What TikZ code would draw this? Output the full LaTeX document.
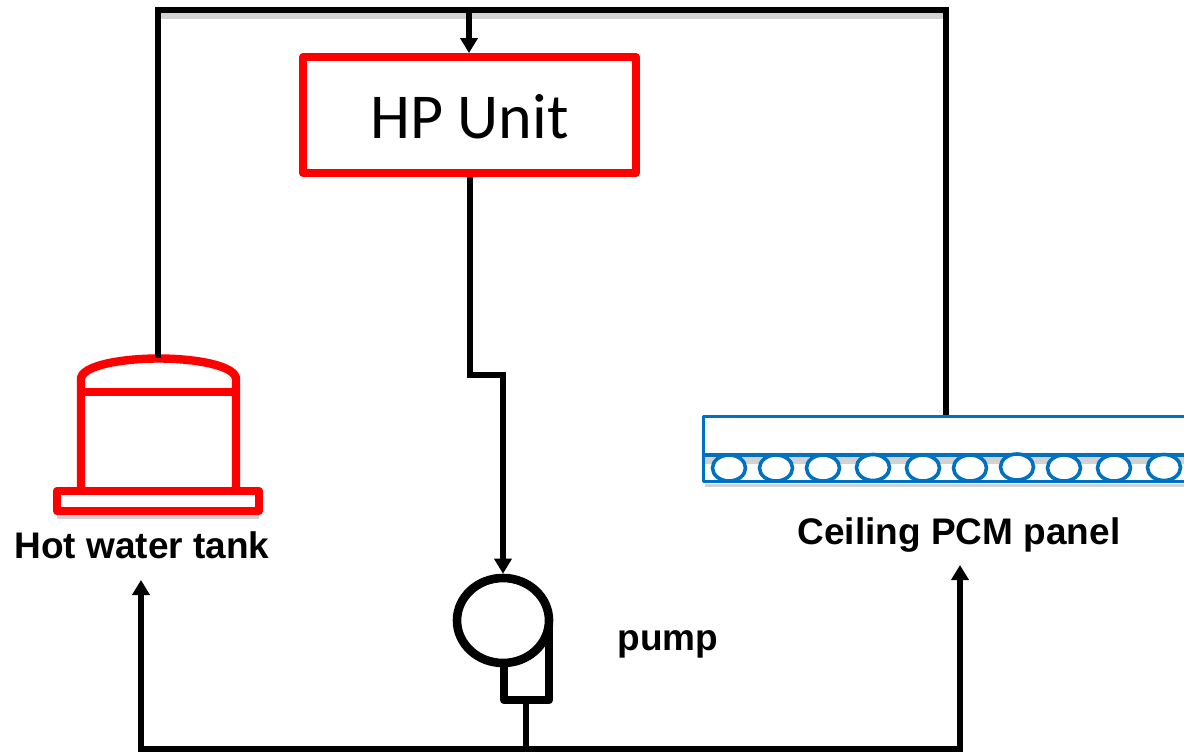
\documentclass[tikz,border=0pt]{standalone}
\usepackage{fontspec}
\setmainfont{Liberation Sans}
\newfontfamily\calib{Carlito}
\usetikzlibrary{arrows.meta,shapes.geometric,calc}
\definecolor{panelblue}{HTML}{0070C0}
\definecolor{shadowgray}{HTML}{D2D2D2}
\tikzset{
  pipe/.style={draw=black,line width=5.5pt,line join=miter},
  flow/.style={pipe,-{Triangle[length=15pt,width=17pt]}},
  redline/.style={draw=red,line width=8.4pt,line join=round},
  blueline/.style={draw=panelblue,line width=3.4pt,line join=round},
  shade/.style={draw=shadowgray,line width=6pt},
  tube/.style={ellipse,draw=panelblue,line width=3.6pt,fill=white,minimum width=33pt,minimum height=26pt,inner sep=0pt},
  lbl/.style={font=\bfseries\fontsize{37}{42}\selectfont,inner sep=0pt,text=black,anchor=base}
}
\begin{document}
\begin{tikzpicture}[x=1pt,y=-1pt]
\useasboundingbox (0,0) rectangle (1184,753);
\clip (0,0) rectangle (1184,753);
% shadows
\draw[shade] (161,16) -- (944,16);
\draw[shadowgray,line width=4pt] (57,517) -- (259,517);
\fill[shadowgray] (705,457) rectangle (1184,464);
\fill[shadowgray] (705,484) rectangle (1184,487);
% named anchor points
\coordinate (tl) at (158,10);
\coordinate (tr) at (946,10);
\coordinate (tm) at (469,10);
\coordinate (bl) at (141,749);
\coordinate (br) at (960,749);
\coordinate (bm) at (526,749);
\coordinate (j1) at (470,375);
\coordinate (j2) at (503,375);
\coordinate (tanktop) at (158,358);
\coordinate (tl2) at (141,580);
\coordinate (br2) at (960,565);
% HP unit
\node[redline,draw,rectangle,fill=white,minimum width=333pt,minimum height=115.5pt,inner sep=0pt,
      text height=46pt,text depth=0pt,
      font=\calib\fontsize{64}{70}\selectfont] (hp) at (469.5,115) {HP Unit};
% tank
\draw[redline,fill=white] (81,487) -- (81,379) .. controls (81,366) and (120,358.5) .. (158.5,358.5) .. controls (197,358.5) and (236,366) .. (236,379) -- (236,487);
\draw[redline] (81,392) -- (236,392);
\node[redline,draw,rectangle,fill=white,minimum width=202pt,minimum height=20pt,inner sep=0pt] (base) at (158,501) {};
\node[lbl] (tanklabel) at (142,558.5) {Hot water tank};
% panel
\node[blueline,draw,rectangle,minimum width=510pt,minimum height=38.5pt,inner sep=0pt,anchor=north west] (panel) at (702,415) {};
\node[blueline,draw,rectangle,minimum width=510pt,minimum height=26.5pt,inner sep=0pt,anchor=north west] (panelb) at (702,453.4) {};
\foreach \i/\x/\y in {1/729/468,2/776/468,3/823/468,4/873/467.5,5/923/468,6/970/468,7/1017/467,8/1064/468,9/1114/468,10/1164/467.5}
  \node[tube] (t\i) at (\x,\y) {};
\node[lbl] (panellabel) at (959,544) {Ceiling PCM panel};
% pump
\draw[black,line width=8.6pt,line join=round] (504,664) -- (504,700) -- (549,700) -- (549,620);
\node[ellipse,draw=black,line width=8.6pt,fill=white,minimum width=92pt,minimum height=85pt,inner sep=0pt] (pump) at (503,620.5) {};
\coordinate (pumpout) at (526,703);
\node[lbl] (pumplabel) at (668,650) {pump};
% connectors
\draw[pipe] (tanktop) -- (tl) -- (tr) -- (panel.north -| tr);
\draw[flow] (tm) -- (hp.north -| tm);
\draw[flow] (hp.south -| j1) -- (j1) -- (j2) -- (pump.north -| j2);
\draw[pipe] (pumpout) -- (bm);
\draw[flow] (bm) -- (bl) -- (tl2);
\draw[flow] (bm) -- (br) -- (br2);
\end{tikzpicture}
\end{document}
